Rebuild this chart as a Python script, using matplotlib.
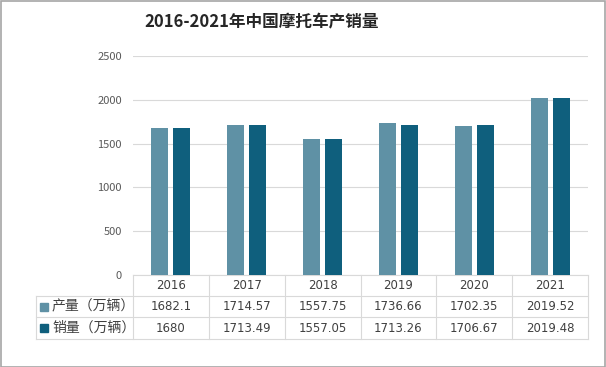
import matplotlib
matplotlib.use("Agg")
import matplotlib.pyplot as plt
from matplotlib.patches import Rectangle
from matplotlib.lines import Line2D

plt.rcParams['font.family'] = ['Noto Sans CJK SC', 'DejaVu Sans']

years = ['2016', '2017', '2018', '2019', '2020', '2021']
production = [1682.1, 1714.57, 1557.75, 1736.66, 1702.35, 2019.52]
sales = [1680, 1713.49, 1557.05, 1713.26, 1706.67, 2019.48]
prod_labels = ['1682.1', '1714.57', '1557.75', '1736.66', '1702.35', '2019.52']
sales_labels = ['1680', '1713.49', '1557.05', '1713.26', '1706.67', '2019.48']
series_names = ['产量（万辆）', '销量（万辆）']
title = '2016-2021年中国摩托车产销量'
yticks = [0, 500, 1000, 1500, 2000, 2500]

c_light = '#5F91A5'
c_dark = '#0F5F7D'
grid_c = '#D9D9D9'
text_c = '#404040'

W, H = 606, 367
fig = plt.figure(figsize=(W / 100, H / 100), dpi=100)

def fx(px):
    return px / W

def fy(py):
    return 1 - py / H

ax_l, ax_r, ax_top, ax_bot = 133, 588, 56, 275
ax = fig.add_axes([fx(ax_l), fy(ax_bot), fx(ax_r - ax_l), (ax_bot - ax_top) / H])
n = len(years)
x = list(range(n))
bw = 0.225
gap = 0.066
ax.bar([i - (bw + gap) / 2 for i in x], production, width=bw, color=c_light, zorder=3)
ax.bar([i + (bw + gap) / 2 for i in x], sales, width=bw, color=c_dark, zorder=3)
ax.set_xlim(-0.5, n - 0.5)
ax.set_ylim(0, 2500)
ax.set_yticks(yticks)
ax.set_yticklabels([str(t) for t in yticks], fontsize=8, color='#595959')
ax.tick_params(axis='y', length=0, pad=8)
ax.set_xticks([])
ax.grid(axis='y', color=grid_c, linewidth=0.8, zorder=0)
for s in ['top', 'right', 'left']:
    ax.spines[s].set_visible(False)
ax.spines['bottom'].set_color(grid_c)
ax.spines['bottom'].set_linewidth(0.8)

# table drawn in figure pixel coordinates
row_top = [275, 296, 317, 339]
col_edges = [ax_l + (ax_r - ax_l) * i / n for i in range(n + 1)]
label_left = 36
lw = 0.8
for yy in row_top[1:]:
    fig.add_artist(Line2D([fx(label_left), fx(ax_r)], [fy(yy), fy(yy)], color=grid_c, lw=lw))
for xx in col_edges:
    fig.add_artist(Line2D([fx(xx), fx(xx)], [fy(275), fy(339)], color=grid_c, lw=lw))
fig.add_artist(Line2D([fx(label_left), fx(label_left)], [fy(296), fy(339)], color=grid_c, lw=lw))

for i in range(n):
    cx = (col_edges[i] + col_edges[i + 1]) / 2
    fig.text(fx(cx), fy(285.5), years[i], ha='center', va='center', fontsize=8.5, color=text_c,
             family=['DejaVu Sans'])
    fig.text(fx(cx), fy(306.5), prod_labels[i], ha='center', va='center', fontsize=8.5, color=text_c,
             family=['DejaVu Sans'])
    fig.text(fx(cx), fy(328), sales_labels[i], ha='center', va='center', fontsize=8.5, color=text_c,
             family=['DejaVu Sans'])

for k, (name, col, yy) in enumerate(zip(series_names, [c_light, c_dark], [306.5, 328])):
    fig.add_artist(Rectangle((fx(40), fy(yy + 4)), fx(8), 8 / H, color=col))
    fig.text(fx(52), fy(yy), name, ha='left', va='center', fontsize=10, color=text_c)

fig.text(fx(262), fy(22), title, ha='center', va='center', fontsize=12, fontweight='bold', color='#262626')

# outer border
fig.add_artist(Rectangle((0.5 / W, 0.5 / H), 1 - 1.5 / W, 1 - 1.5 / H, fill=False, edgecolor='#A6A6A6', lw=1.2))

fig.savefig('out.png', dpi=100)
